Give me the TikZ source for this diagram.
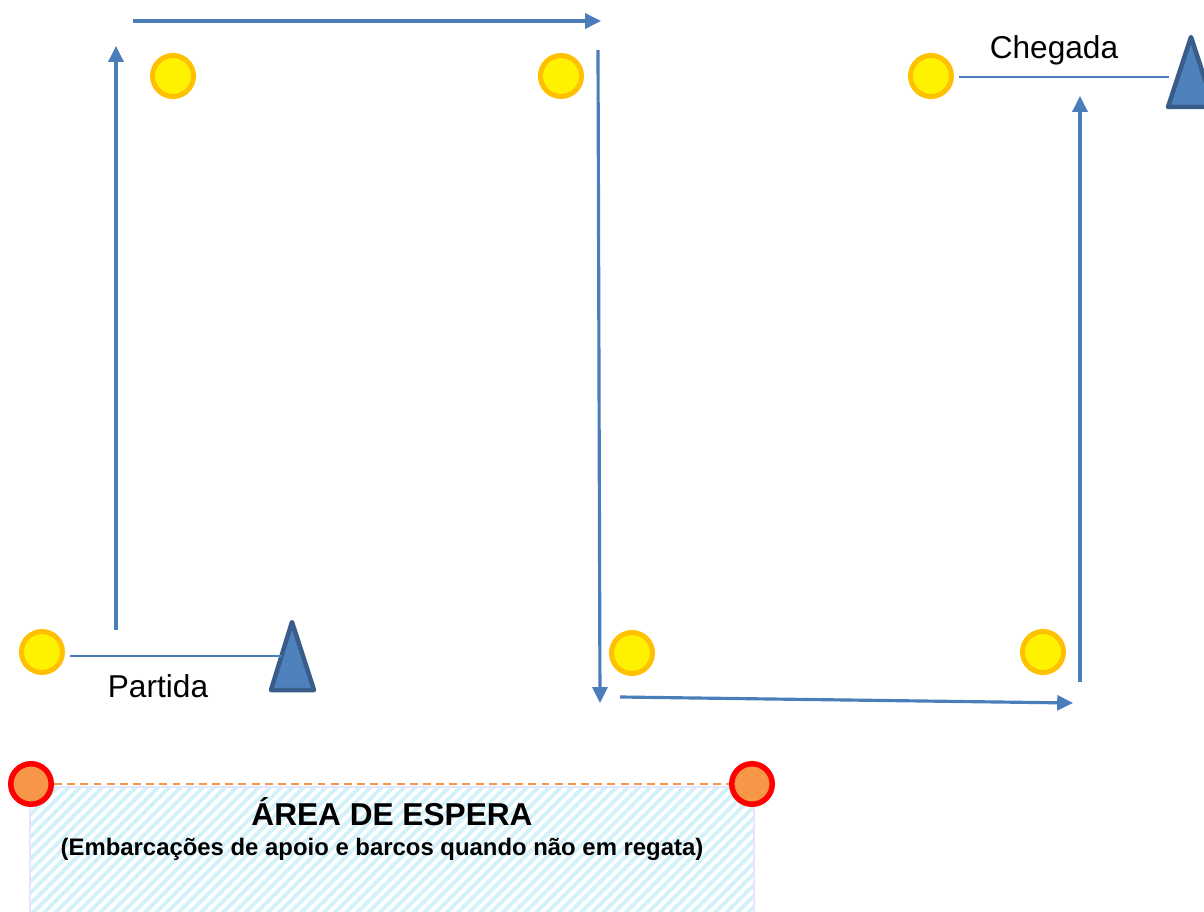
\documentclass[tikz,border=0pt]{standalone}
\usepackage{fontspec}
\setmainfont{Liberation Sans}
\usetikzlibrary{arrows.meta,patterns.meta}
\definecolor{courseblue}{HTML}{4A7EBB}
\definecolor{buoyorange}{HTML}{FFC000}
\definecolor{limitorange}{HTML}{F79646}
\definecolor{flagfill}{HTML}{4F81BD}
\definecolor{flagdraw}{HTML}{385D8A}
\definecolor{hatchcyan}{HTML}{D3F1FA}
\begin{document}
\begin{tikzpicture}[x=0.02cm,y=-0.02cm]
\tikzstyle{buoy} = [circle, draw=buoyorange, fill=yellow, line width=0.1cm, minimum size=0.82cm, inner sep=0pt]
\tikzstyle{limit} = [circle, draw=red, fill=limitorange, line width=0.11cm, minimum size=0.81cm, inner sep=0pt]
\tikzstyle{flag} = [draw=flagdraw, fill=flagfill, line width=0.09cm, line join=round]
\tikzstyle{leg} = [draw=courseblue, line width=1.8pt, -{Triangle[length=9pt,width=8.5pt]}]
\tikzstyle{gate} = [draw=courseblue, line width=1.6pt]
\tikzstyle{label} = [anchor=base, font=\fontsize{18}{21}\selectfont]

\useasboundingbox (0,0) rectangle (1204,912);
\clip (0,0) rectangle (1204,912);

\fill[pattern={Lines[angle=45,distance=4.5pt,line width=2.2pt]}, pattern color=hatchcyan] (30,787) rectangle (754,930);
\draw[draw=blue!10, line width=0.6pt] (30,930) -- (30,787) -- (754,787) -- (754,930);

\node (l1) [limit] at (31,784) {};
\node (l2) [limit] at (752,784) {};
\draw[draw=limitorange, line width=1.1pt, dash pattern=on 4.5pt off 3pt] (l1.east) -- (l2.west);

\node (b1) [buoy] at (42,652) {};
\node (b2) [buoy] at (173,76) {};
\node (b3) [buoy] at (561,76) {};
\node (b4) [buoy] at (632,653) {};
\node (b5) [buoy] at (1043,652) {};
\node (b6) [buoy] at (931,76) {};

\coordinate (p1) at (282,656);
\coordinate (p2) at (1169,77);
\draw [flag] (292,622) -- (314,690) -- (271,690) -- cycle;
\draw [flag] (1191,37) -- (1214,107) -- (1168,107) -- cycle;
\draw [gate] (b1.east) ++(5,4) -- (p1);
\draw [gate] (b6.east) ++(5,1) -- (p2);

\node (partida) [label] at (158,697) {Partida};
\node (chegada) [label] at (1054,59) {Chegada};

\coordinate (a1) at (116,630);
\coordinate (a2) at (116,46);
\coordinate (a3) at (133,21);
\coordinate (a4) at (601,21);
\coordinate (a5) at (598,50);
\coordinate (a6) at (600,703);
\coordinate (a7) at (620,697);
\coordinate (a8) at (1073,703);
\coordinate (a9) at (1080,682);
\coordinate (a10) at (1080,96);
\draw [leg] (a1) -- (a2);
\draw [leg] (a3) -- (a4);
\draw [leg] (a5) -- (a6);
\draw [leg] (a7) -- (a8);
\draw [leg] (a9) -- (a10);

\node (area) [anchor=base, font=\bfseries\fontsize{18}{21}\selectfont] at (392,825) {ÁREA DE ESPERA};
\node (apoio) [anchor=base, font=\bfseries\fontsize{13.6}{16}\selectfont] at (382,855) {(Embarcações de apoio e barcos quando não em regata)};
\end{tikzpicture}
\end{document}
